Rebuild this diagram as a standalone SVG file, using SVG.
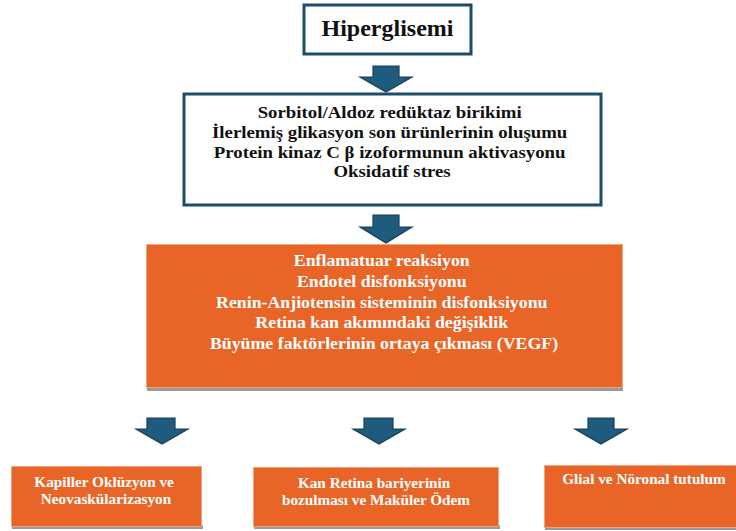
<svg xmlns="http://www.w3.org/2000/svg" width="736" height="531" viewBox="0 0 736 531">
<defs>
<style>
.t{font-family:"Liberation Serif","Times New Roman",serif;font-weight:bold;text-anchor:middle}
.dk{fill:#111}
.wh{fill:#ffffff}
.wbox{fill:#ffffff;stroke:#1d4e69;stroke-width:3}
.obox{fill:#e96527;stroke:#f3a27a;stroke-width:1}
.shadow{fill:#9a9a9a}
.arrow{fill:#1f5b7c;stroke:#163f57;stroke-width:1.2;stroke-linejoin:miter}
</style>
</defs>
<g id="connectors">
<path class="arrow" d="M373,66 H399 V77 H412 L386,92 L360,77 H373 Z"/>
<path class="arrow" d="M373,215 H399 V227 H412 L386,243 L360,227 H373 Z"/>
<path class="arrow" d="M147,418 H175 V429 H188 L162,444 L136,429 H147 Z"/>
<path class="arrow" d="M364,418 H393 V429 H405 L379,444 L353,429 H364 Z"/>
<path class="arrow" d="M588,418 H614 V429 H627 L601,444 L575,429 H588 Z"/>
</g>
<g id="hiperglisemi">
<rect class="wbox" x="304" y="5" width="167" height="49"/>
<text class="t dk" x="387.5" y="36" font-size="24">Hiperglisemi</text>
</g>
<g id="mekanizmalar">
<rect class="wbox" x="184" y="94" width="417" height="111"/>
<text class="t dk" font-size="16.5" transform="translate(392,0) scale(1.14,1)">
<tspan x="0" y="118">Sorbitol/Aldoz redüktaz birikimi</tspan>
<tspan x="0" y="138">İlerlemiş  glikasyon son ürünlerinin  oluşumu</tspan>
<tspan x="0" y="158">Protein kinaz C  β izoformunun  aktivasyonu</tspan>
<tspan x="0" y="177">Oksidatif  stres</tspan>
</text>
</g>
<g id="sonuclar">
<rect class="shadow" x="147" y="386" width="476" height="5"/>
<rect class="obox" x="146.5" y="244.5" width="476" height="143"/>
<text class="t wh" font-size="16.5" transform="translate(384,0) scale(1.08,1)">
<tspan x="0" y="266">Enflamatuar reaksiyon</tspan>
<tspan x="0" y="287">Endotel disfonksiyonu</tspan>
<tspan x="0" y="308">Renin-Anjiotensin  sisteminin  disfonksiyonu</tspan>
<tspan x="0" y="328">Retina kan akımındaki  değişiklik</tspan>
<tspan x="0" y="349">Büyüme faktörlerinin  ortaya çıkması (VEGF)</tspan>
</text>
</g>
<g id="kapiller">
<rect class="shadow" x="12" y="525" width="191" height="4"/>
<rect class="obox" x="11.5" y="466.5" width="190" height="60"/>
<text class="t wh" font-size="14" transform="translate(106,0) scale(1.09,1)">
<tspan x="0" y="487">Kapiller  Oklüzyon ve</tspan>
<tspan x="0" y="504">Neovaskülarizasyon</tspan>
</text>
</g>
<g id="kanretina">
<rect class="shadow" x="254" y="525" width="246" height="4"/>
<rect class="obox" x="253.5" y="467.5" width="245" height="59"/>
<text class="t wh" font-size="14" transform="translate(376,0) scale(1.09,1)">
<tspan x="0" y="488">Kan Retina  bariyerinin</tspan>
<tspan x="0" y="505">bozulması ve Maküler Ödem</tspan>
</text>
</g>
<g id="glial">
<rect class="shadow" x="545" y="526" width="191" height="4"/>
<rect class="obox" x="544.5" y="465.5" width="192" height="62"/>
<text class="t wh" font-size="14" transform="translate(644,0) scale(1.09,1)" x="0" y="484">Glial ve Nöronal tutulum</text>
</g>
</svg>
